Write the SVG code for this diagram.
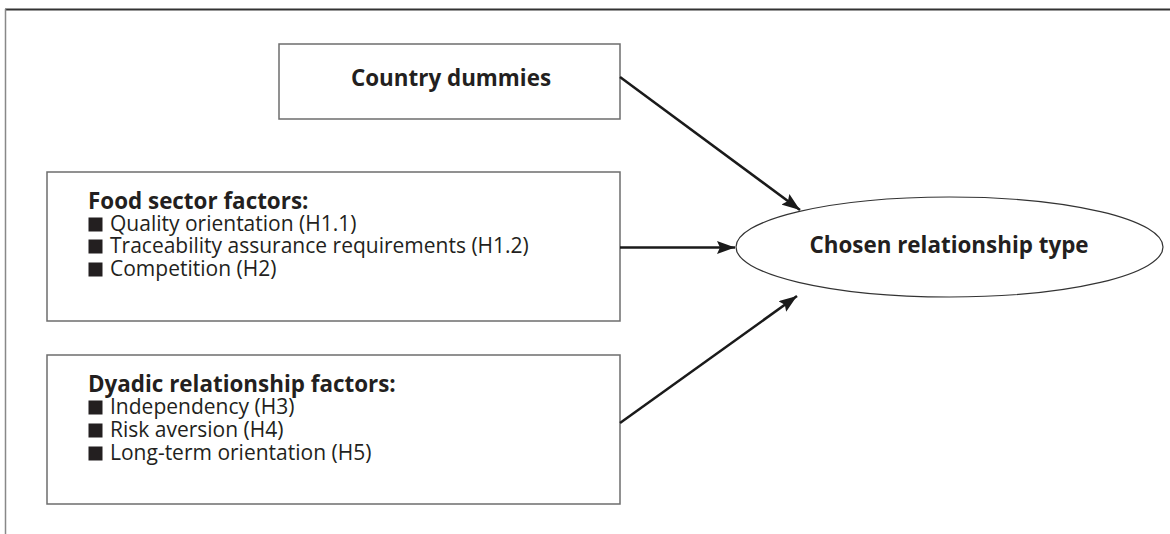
<svg xmlns="http://www.w3.org/2000/svg" width="1170" height="534" viewBox="0 0 1170 534">
  <defs>
    <marker id="arrow" viewBox="0 0 18 13" refX="18" refY="6.5" markerWidth="18" markerHeight="13" markerUnits="userSpaceOnUse" orient="auto">
      <path d="M0,0 L18,6.5 L0,13 L3,6.5 z" fill="#1a1a1a"/>
    </marker>
    <style>
      .box { fill: #fff; stroke: #6d6d6d; stroke-width: 1.5; }
      .oval { fill: #fff; stroke: #333; stroke-width: 1.2; }
      .head { font-family: "Open Sans", "Liberation Sans", sans-serif; font-weight: bold; font-size: 22.4px; fill: #231f20; }
      .item { font-family: "Open Sans", "Liberation Sans", sans-serif; font-size: 21px; fill: #231f20; }
      .bullet { fill: #231f20; }
      .link { stroke: #1a1a1a; stroke-width: 2.5; fill: none; marker-end: url(#arrow); }
    </style>
  </defs>
  <rect width="1170" height="534" fill="#fff"/>
  <!-- frame -->
  <line x1="5" y1="9.5" x2="1170" y2="9.5" stroke="#333" stroke-width="2"/>
  <line x1="5.5" y1="9" x2="5.5" y2="534" stroke="#888" stroke-width="1.5"/>

  <g id="country-dummies">
    <rect class="box" x="279" y="44" width="341" height="75"/>
    <text class="head" x="451" y="86" text-anchor="middle">Country dummies</text>
  </g>

  <g id="food-sector">
    <rect class="box" x="47" y="172" width="573" height="149"/>
    <text class="head" x="88" y="209">Food sector factors:</text>
    <rect class="bullet" x="88.5" y="217.5" width="14" height="14"/>
    <text class="item" x="110" y="231">Quality orientation (H1.1)</text>
    <rect class="bullet" x="88.5" y="239.5" width="14" height="14"/>
    <text class="item" x="110" y="253">Traceability assurance requirements (H1.2)</text>
    <rect class="bullet" x="88.5" y="262.5" width="14" height="14"/>
    <text class="item" x="110" y="276">Competition (H2)</text>
  </g>

  <g id="dyadic">
    <rect class="box" x="47" y="355" width="573" height="149"/>
    <text class="head" x="88" y="392">Dyadic relationship factors:</text>
    <rect class="bullet" x="88.5" y="400.5" width="14" height="14"/>
    <text class="item" x="110" y="414">Independency (H3)</text>
    <rect class="bullet" x="88.5" y="423.5" width="14" height="14"/>
    <text class="item" x="110" y="437">Risk aversion (H4)</text>
    <rect class="bullet" x="88.5" y="446.5" width="14" height="14"/>
    <text class="item" x="110" y="460">Long-term orientation (H5)</text>
  </g>

  <g id="relationship-type">
    <ellipse class="oval" cx="949.5" cy="247" rx="213.5" ry="50"/>
    <text class="head" x="949" y="253" text-anchor="middle">Chosen relationship type</text>
  </g>

  <g id="connectors">
    <line class="link" x1="620" y1="77" x2="800" y2="210"/>
    <line class="link" x1="620" y1="247.5" x2="735" y2="247.5"/>
    <line class="link" x1="620" y1="423" x2="797" y2="296"/>
  </g>
</svg>
